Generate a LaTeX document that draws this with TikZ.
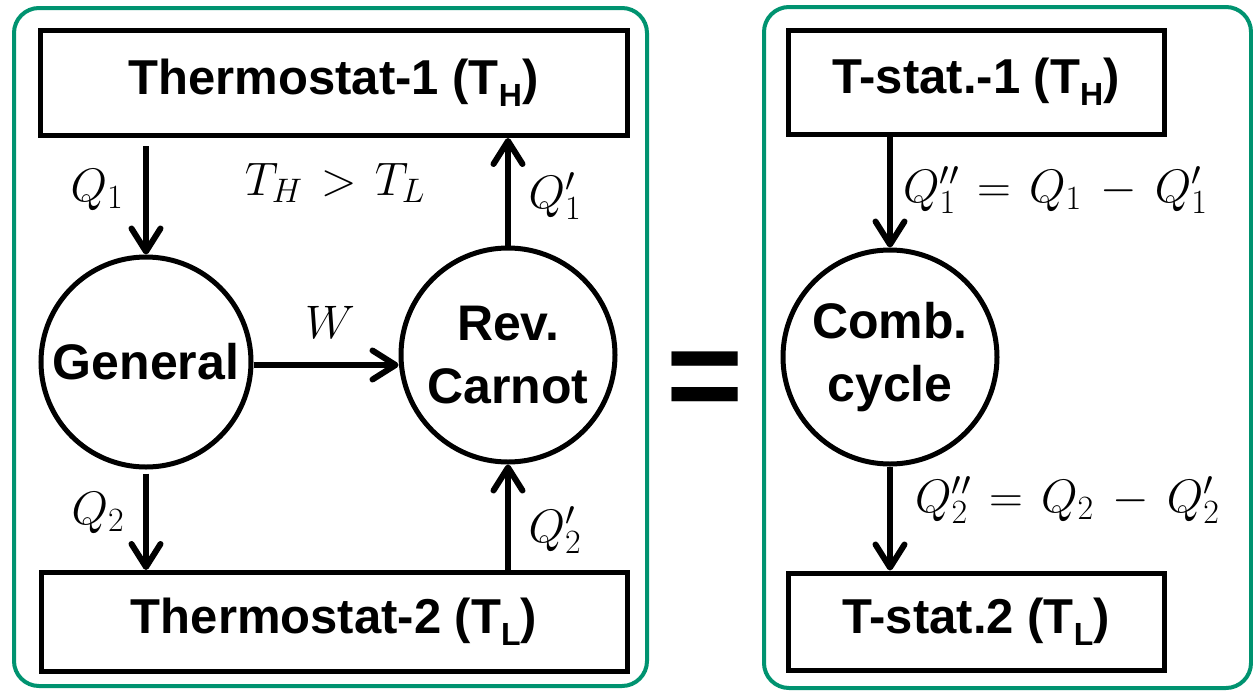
\RequirePackage{fix-cm}
\documentclass[tikz,border=0pt]{standalone}
\usepackage{fontspec}
\newfontfamily\labelfont{Liberation Sans}
\usetikzlibrary{arrows.meta}
\definecolor{framegreen}{RGB}{0,147,112}

% larger script sizes for the big formula labels
\DeclareMathSizes{47}{47}{34}{25}

% lowered subscript used in the reservoir names
\newcommand\lowsub[1]{\raisebox{-0.25em}{\fontsize{32}{32}\selectfont #1}}
% formula with roomier spacing
\newcommand\qmath[1]{\thickmuskip=7mu plus 2mu\medmuskip=7mu plus 2mu$#1$}

\tikzset{
  frame/.style={draw=framegreen, line width=4pt, rounded corners=25pt},
  reservoir/.style={draw, line width=5pt, inner sep=0pt,
    font=\labelfont\bfseries\fontsize{49}{58}\selectfont},
  engine/.style={circle, draw, line width=5pt, inner sep=0pt, align=center,
    font=\labelfont\bfseries\fontsize{50}{63}\selectfont},
  flow/.style={line width=6pt,
    -{Straight Barb[length=23pt,width=29pt,line cap=round,line join=round]}},
  qlab/.style={inner sep=0pt, font=\fontsize{47}{52}\selectfont},
}

\begin{document}
\begin{tikzpicture}[x=1pt,y=-1pt]
  \useasboundingbox (0,0) rectangle (1253,694);

  % ---- left panel: general engine coupled with a reversed Carnot cycle ----
  \draw[frame] (14,8) rectangle (647,686);

  \node[reservoir, minimum width=587pt, minimum height=105pt] (hot1) at (333.5,83)
    {Thermostat-1 (T\lowsub{H})};
  \node[reservoir, minimum width=586pt, minimum height=99pt] (cold1) at (334,622)
    {Thermostat-2 (T\lowsub{L})};

  \node[engine, minimum size=210pt] (gen) at (146,362) {General};
  \node[engine, minimum size=214pt] (carnot) at (508,355) {Rev.\\Carnot};

  \draw[flow, shorten <=8pt] (hot1.south -| gen.north) -- (gen.north);
  \draw[flow, shorten <=4pt] (gen.south) -- (cold1.north -| gen.south);
  \draw[flow] (gen.east |- 0,365) -- (carnot.west |- 0,365);
  \draw[flow] (carnot.north) -- (hot1.south -| carnot.north);
  \draw[flow] (cold1.north -| carnot.south) -- (carnot.south);

  \node[qlab] (q1)  at (97,190)  {\qmath{Q_1}};
  \node[qlab] (thl) at (335,183) {\qmath{T_H > T_L}};
  \node[qlab] (q1p) at (555,196) {\qmath{Q'_1}};
  \node[qlab] (w)   at (330,322) {\qmath{W}};
  \node[qlab] (q2)  at (98,513)  {\qmath{Q_2}};
  \node[qlab] (q2p) at (555,530) {\qmath{Q'_2}};

  % ---- equivalence sign ----
  \node[inner sep=0pt, anchor=base, font=\labelfont\bfseries\fontsize{132}{132}\selectfont]
    (eq) at (705,420) {=};

  % ---- right panel: the combined cycle ----
  \draw[frame] (764,7) rectangle (1251,688);

  \node[reservoir, minimum width=376pt, minimum height=104pt] (hot2) at (976,82)
    {T-stat.-1 (T\lowsub{H})};
  \node[reservoir, minimum width=376pt, minimum height=97pt] (cold2) at (976,621.5)
    {T-stat.2 (T\lowsub{L})};

  \node[engine, minimum size=214pt] (comb) at (890,357) {Comb.\\cycle};

  \draw[flow] (hot2.south -| comb.north) -- (comb.north);
  \draw[flow] (comb.south) -- (cold2.north -| comb.south);

  \node[qlab, anchor=west] (q1pp) at (903,190) {\qmath{Q''_1 = Q_1 - Q'_1}};
  \node[qlab, anchor=west] (q2pp) at (915,500) {\qmath{Q''_2 = Q_2 - Q'_2}};
\end{tikzpicture}
\end{document}
